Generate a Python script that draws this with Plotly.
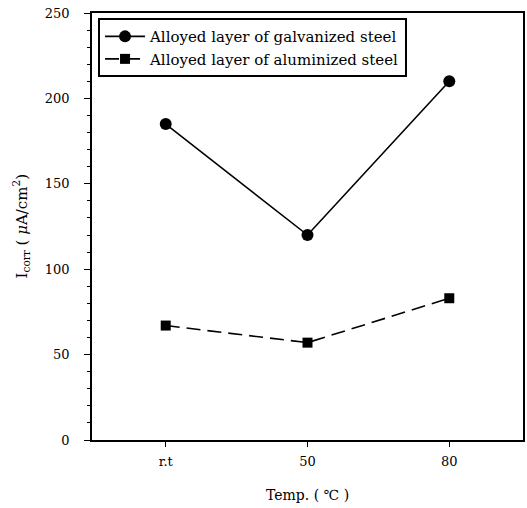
import plotly.graph_objects as go

categories = ["r.t", "50", "80"]
galvanized = [185, 120, 210]
aluminized = [67, 57, 83]
y_ticks = [0, 50, 100, 150, 200, 250]

FONT = "DejaVu Serif"

fig = go.Figure()
fig.add_trace(go.Scatter(
    x=[0, 1, 2], y=galvanized, mode="lines+markers",
    name="Alloyed layer of galvanized steel",
    line=dict(color="black", width=1.6),
    marker=dict(symbol="circle", size=12, color="black"),
))
fig.add_trace(go.Scatter(
    x=[0, 1, 2], y=aluminized, mode="lines+markers",
    name="Alloyed layer of aluminized steel",
    line=dict(color="black", width=1.6, dash="14px,7px"),
    marker=dict(symbol="square", size=10, color="black"),
))

fig.update_layout(
    width=527, height=508,
    margin=dict(l=92, r=4, t=13, b=68),
    paper_bgcolor="white", plot_bgcolor="white",
    font=dict(family=FONT, color="black", size=13),
    showlegend=True,
    legend=dict(
        x=0.014, y=0.988, xanchor="left", yanchor="top",
        bordercolor="black", borderwidth=2, bgcolor="white",
        font=dict(family=FONT, size=15, color="black"),
        itemwidth=40,
    ),
    xaxis=dict(
        range=[-0.52, 2.52], tickmode="array", tickvals=[0, 1, 2],
        ticktext=categories, ticks="outside", ticklen=5, tickwidth=1.2,
        tickcolor="black", showline=True, linecolor="black", linewidth=1.6,
        mirror=True, showgrid=False, zeroline=False, ticklabelstandoff=4,
        ticklabeloverflow="allow", automargin=False,
        tickfont=dict(family=FONT, size=13),
    ),
    yaxis=dict(
        range=[0, 250], tickmode="array", tickvals=y_ticks,
        ticks="outside", ticklen=6, tickwidth=1.2, tickcolor="black",
        showline=True, linecolor="black", linewidth=1.6, mirror=True,
        showgrid=False, zeroline=False, ticklabelstandoff=12,
        ticklabeloverflow="allow", automargin=False,
        tickfont=dict(family=FONT, size=13),
        minor=dict(dtick=10, ticks="outside", ticklen=3, tickcolor="black", tickwidth=1),
    ),
    annotations=[
        dict(text="I<sub>corr</sub> ( <i>μ</i>A/cm<sup>2</sup>)", xref="paper", yref="paper",
             x=-0.165, y=0.5, textangle=-90, showarrow=False,
             font=dict(family=FONT, size=15, color="black"),
             xanchor="center", yanchor="middle"),
        dict(text="Temp. ( ℃ )", xref="paper", yref="paper",
             x=0.5, y=-0.129, showarrow=False,
             font=dict(family=FONT, size=14, color="black"),
             xanchor="center", yanchor="middle"),
    ],
)

# remove the page's default body margin so the figure sits at the window's top-left corner
fig.write_html("out.html", config={"displayModeBar": False},
               post_script="document.body.style.margin='0';")
